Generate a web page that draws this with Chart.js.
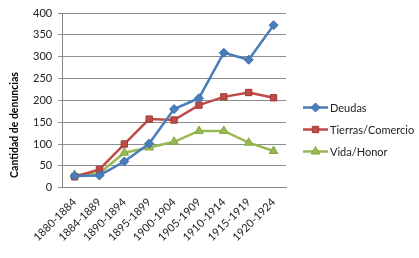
<!DOCTYPE html>
<html><head><meta charset="utf-8">
<script src="https://cdn.jsdelivr.net/npm/chart.js@4.4.1/dist/chart.umd.min.js"></script>
<style>html,body{margin:0;padding:0;background:#fff}#wrap{width:419px;height:258px}</style>
</head><body><div id="wrap"><canvas id="c" width="419" height="258"></canvas></div>
<script>
const categories = ["1880-1884","1884-1889","1890-1894","1895-1899","1900-1904","1905-1909","1910-1914","1915-1919","1920-1924"];
const deudas = [27, 28, 60, 101, 180, 205, 309, 293, 372];
const tierras = [25, 42, 100, 157, 155, 189, 208, 218, 206];
const vida = [29, 33, 80, 92, 105, 130, 130, 103, 84];
const yTicks = [0, 50, 100, 150, 200, 250, 300, 350, 400];
const yTitle = "Cantidad de denuncias";

const FONT = "Lato, 'Liberation Sans', sans-serif";
const series = [
  {label: "Deudas", data: deudas, color: "#4A7EBB", border: "#3A6DAA", ps: "rectRot", r: 4.5},
  {label: "Tierras/Comercio", data: tierras, color: "#BE4B48", border: "#A33B38", ps: "rect", r: 4.5},
  {label: "Vida/Honor", data: vida, color: "#98B954", border: "#86A644", ps: "triangle", r: 5}
];

const extras = {
  id: 'extras',
  afterDraw(chart) {
    const ctx = chart.ctx;
    ctx.save();
    ctx.translate(15, 125);
    ctx.rotate(-Math.PI / 2);
    ctx.font = "bold 10.5px " + FONT;
    ctx.fillStyle = '#000';
    ctx.textAlign = 'center';
    ctx.textBaseline = 'middle';
    ctx.fillText(yTitle, 0, 0);
    ctx.restore();
    const x0 = 303, lineLen = 25, rowY0 = 107.5, rowGap = 22;
    series.forEach((s, i) => {
      const y = rowY0 + i * rowGap;
      ctx.save();
      ctx.strokeStyle = s.color; ctx.lineWidth = 2.5;
      ctx.beginPath(); ctx.moveTo(x0, y); ctx.lineTo(x0 + lineLen, y); ctx.stroke();
      ctx.fillStyle = s.color; ctx.strokeStyle = s.border; ctx.lineWidth = 1;
      Chart.helpers.drawPoint(ctx, {pointStyle: s.ps, radius: s.r, rotation: 0, borderWidth: 1}, x0 + lineLen / 2, y);
      ctx.restore();
      ctx.save();
      ctx.font = "11px " + FONT;
      ctx.fillStyle = '#222';
      ctx.textAlign = 'left'; ctx.textBaseline = 'middle';
      ctx.fillText(s.label, x0 + lineLen + 2, y + 0.5);
      ctx.restore();
    });
  }
};

new Chart(document.getElementById('c'), {
  type: 'line',
  data: {
    labels: categories,
    datasets: series.map(s => ({
      label: s.label, data: s.data, borderColor: s.color, backgroundColor: s.color,
      pointBorderColor: s.border, pointBackgroundColor: s.color, pointStyle: s.ps,
      pointRadius: s.r, pointBorderWidth: 1, borderWidth: 2.5, tension: 0
    }))
  },
  plugins: [extras],
  options: {
    responsive: false, animation: false,
    layout: {padding: {left: 27, top: 13, right: 133, bottom: 6}},
    plugins: {
      tooltip: {enabled: false},
      legend: {display: false}
    },
    scales: {
      x: {
        offset: true,
        grid: {display: false, drawTicks: false},
        border: {color: '#868686', width: 1},
        ticks: {font: {family: FONT, size: 11}, color: '#222', maxRotation: 45, minRotation: 45, padding: 8, autoSkip: false}
      },
      y: {
        min: 0, max: 400,
        afterBuildTicks: (ax) => { ax.ticks = yTicks.map(v => ({value: v})); },
        grid: {color: '#8C8C8C', lineWidth: 1, tickLength: 4},
        border: {color: '#868686', width: 1},
        ticks: {font: {family: FONT, size: 11}, color: '#222', padding: 6}
      }
    }
  }
});
</script></body></html>
